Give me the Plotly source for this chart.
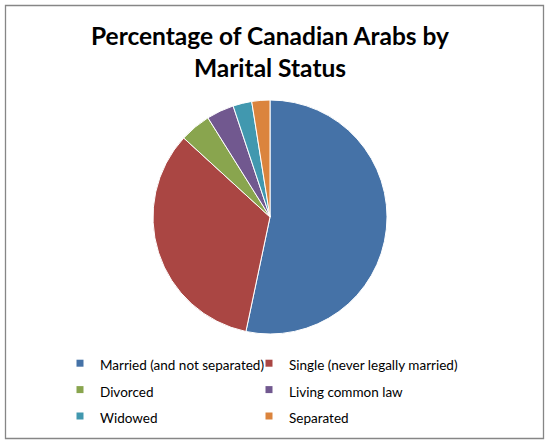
import plotly.graph_objects as go

categories = ["Married (and not separated)", "Single (never legally married)", "Divorced",
              "Living common law", "Widowed", "Separated"]
values = [53.3, 33.5, 4.3, 3.8, 2.6, 2.5]
colors = ["#4572A7", "#AA4643", "#89A54E", "#71588F", "#4198AF", "#DB843D"]

W, H = 549, 445
cx, cy, r = 270, 217, 117

fig = go.Figure()
fig.add_trace(go.Pie(
    labels=categories, values=values, sort=False, direction="clockwise", rotation=0,
    marker=dict(colors=colors, line=dict(color="white", width=1)),
    textinfo="none", hoverinfo="label+percent", showlegend=False,
    domain=dict(x=[(cx - r) / W, (cx + r) / W], y=[1 - (cy + r) / H, 1 - (cy - r) / H]),
))

# legend entries (two columns, ordered left-to-right, top-to-bottom)
for i, (name, col) in enumerate(zip(categories, colors)):
    fig.add_trace(go.Scatter(
        x=[None], y=[None], mode="markers", name='<span style="font-size:13.5px">%s</span>' % name,
        marker=dict(symbol="square", size=7, color=col, line=dict(width=0)),
        hoverinfo="skip", showlegend=True,
        legend="legend" if i % 2 == 0 else "legend2",
    ))

leg_common = dict(orientation="v", yanchor="top", xanchor="left", itemwidth=30,
                  font=dict(size=18, family="Lato", color="#000000"),
                  bgcolor="rgba(0,0,0,0)", traceorder="normal", itemclick=False,
                  itemdoubleclick=False)

fig.update_layout(
    width=W, height=H, margin=dict(l=0, r=0, t=0, b=0),
    paper_bgcolor="white", plot_bgcolor="white",
    font=dict(family="Lato, Open Sans, sans-serif", color="#000000"),
    title=dict(text="<b>Percentage of Canadian Arabs by<br>Marital Status</b>",
               x=270 / W, xanchor="center", y=1 - 45 / H, yanchor="top",
               font=dict(size=24.5, family="Lato", color="#000000")),
    xaxis=dict(visible=False), yaxis=dict(visible=False),
    showlegend=True,
    legend=dict(x=60 / W, y=1 - 345 / H, **leg_common),
    legend2=dict(x=249 / W, y=1 - 345 / H, **leg_common),
    shapes=[dict(type="rect", xref="paper", yref="paper",
                 x0=5.5 / W, x1=543.5 / W, y0=1 - 438.5 / H, y1=1 - 5.5 / H,
                 line=dict(color="#868686", width=1.3), fillcolor="rgba(0,0,0,0)")],
)

fig.write_html("out.html", config={"displayModeBar": False},
               post_script="document.body.style.margin='0';")
